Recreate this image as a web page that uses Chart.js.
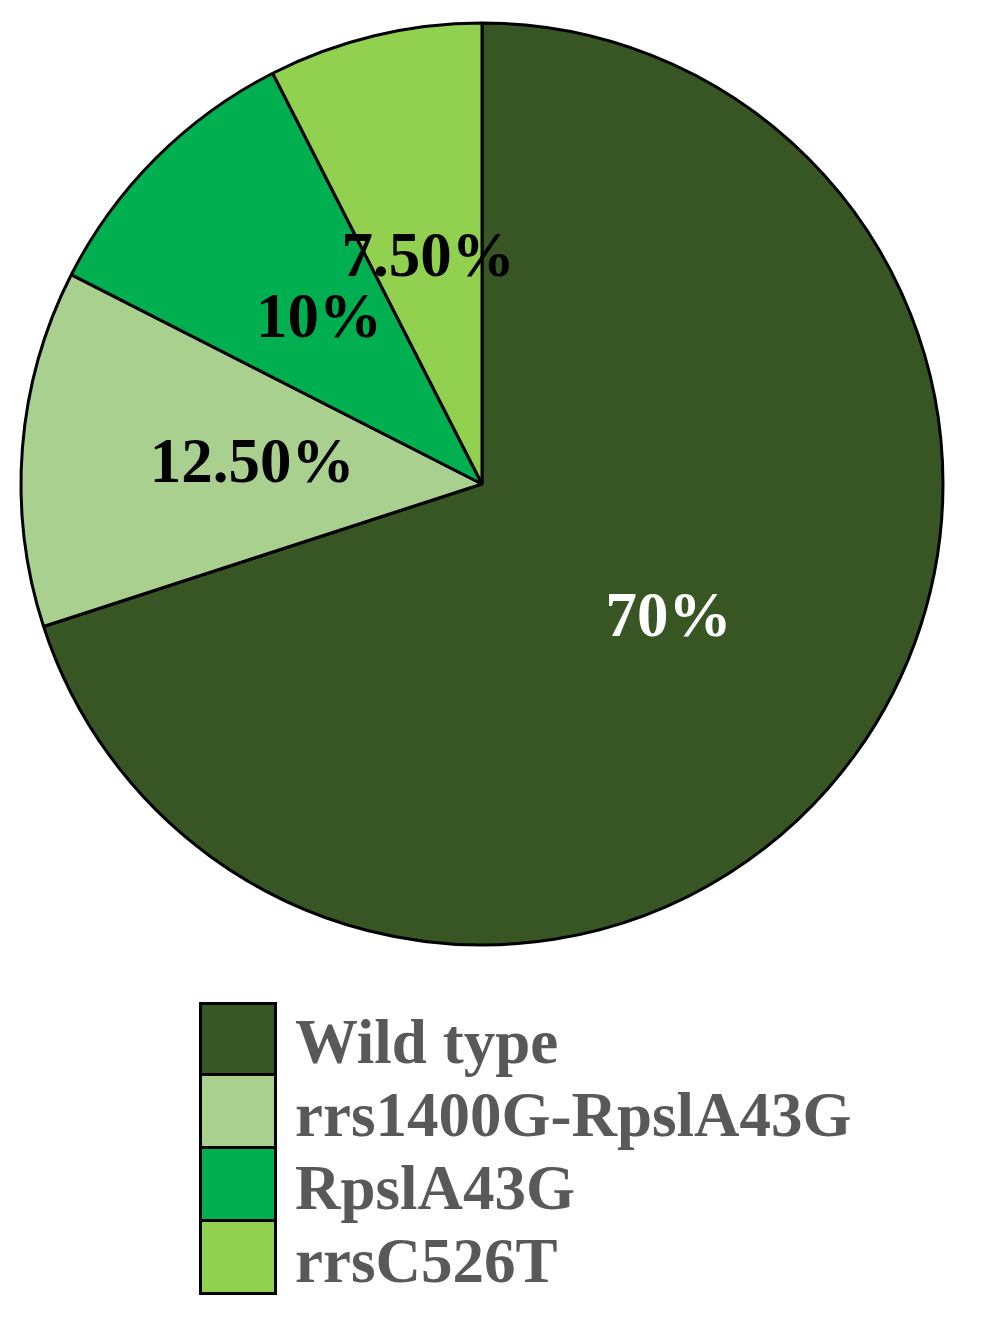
<!DOCTYPE html>
<html>
<head>
<meta charset="utf-8">
<script src="https://cdn.jsdelivr.net/npm/chart.js@4/dist/chart.umd.min.js"></script>
<style>
  body { margin: 0; background: #fff; }
  #page { position: relative; width: 1000px; height: 1324px; }
  #pieBox { position: absolute; left: 0; top: 0; width: 964px; height: 968px; }
  #legend { position: absolute; left: 199px; top: 1003px; font-family: "Liberation Serif", "Times New Roman", serif; font-weight: bold; font-size: 63px; color: #595959; }
  .row { display: flex; align-items: center; height: 73px; }
  .box { width: 78px; height: 76px; box-sizing: border-box; border: 3.5px solid #000; margin-top: -3px; }
  .row:first-child .box { margin-top: 0; }
  .txt { margin-left: 18px; line-height: 73px; white-space: nowrap; position: relative; top: 3px; }
</style>
</head>
<body>
<div id="page">
  <div id="pieBox"><canvas id="pie"></canvas></div>
  <div id="legend"></div>
</div>
<script>
const labels = ["Wild type", "rrs1400G-RpslA43G", "RpslA43G", "rrsC526T"];
const values = [70, 12.5, 10, 7.5];
const valueLabels = ["70%", "12.50%", "10%", "7.50%"];
const colors = ["#375623", "#a9d08e", "#00b050", "#92d050"];
const labelColors = ["#ffffff", "#000000", "#000000", "#000000"];

// draws the percentage text in the middle of each slice
const sliceLabels = {
  id: "sliceLabels",
  afterDatasetsDraw(chart) {
    const ctx = chart.ctx;
    const meta = chart.getDatasetMeta(0);
    ctx.save();
    ctx.font = "bold 63px 'Liberation Serif', 'Times New Roman', serif";
    ctx.textAlign = "center";
    ctx.textBaseline = "middle";
    meta.data.forEach((arc, i) => {
      const p = arc.tooltipPosition();
      ctx.fillStyle = labelColors[i];
      ctx.fillText(valueLabels[i], p.x, p.y);
    });
    ctx.restore();
  },
};

const chart = new Chart(document.getElementById("pie"), {
  type: "pie",
  data: {
    labels: labels,
    datasets: [
      {
        data: values,
        backgroundColor: colors,
        borderColor: "#000000",
        borderWidth: 3,
      },
    ],
  },
  options: {
    responsive: true,
    maintainAspectRatio: false,
    animation: false,
    radius: 461,
    layout: { padding: 0 },
    plugins: {
      legend: { display: false },
      tooltip: { enabled: false },
    },
  },
  plugins: [sliceLabels],
});

// legend built from the chart data
const legendEl = document.getElementById("legend");
chart.data.labels.forEach((lab, i) => {
  const row = document.createElement("div");
  row.className = "row";
  const box = document.createElement("div");
  box.className = "box";
  box.style.background = chart.data.datasets[0].backgroundColor[i];
  const txt = document.createElement("span");
  txt.className = "txt";
  txt.textContent = lab;
  row.appendChild(box);
  row.appendChild(txt);
  legendEl.appendChild(row);
});
</script>
</body>
</html>
